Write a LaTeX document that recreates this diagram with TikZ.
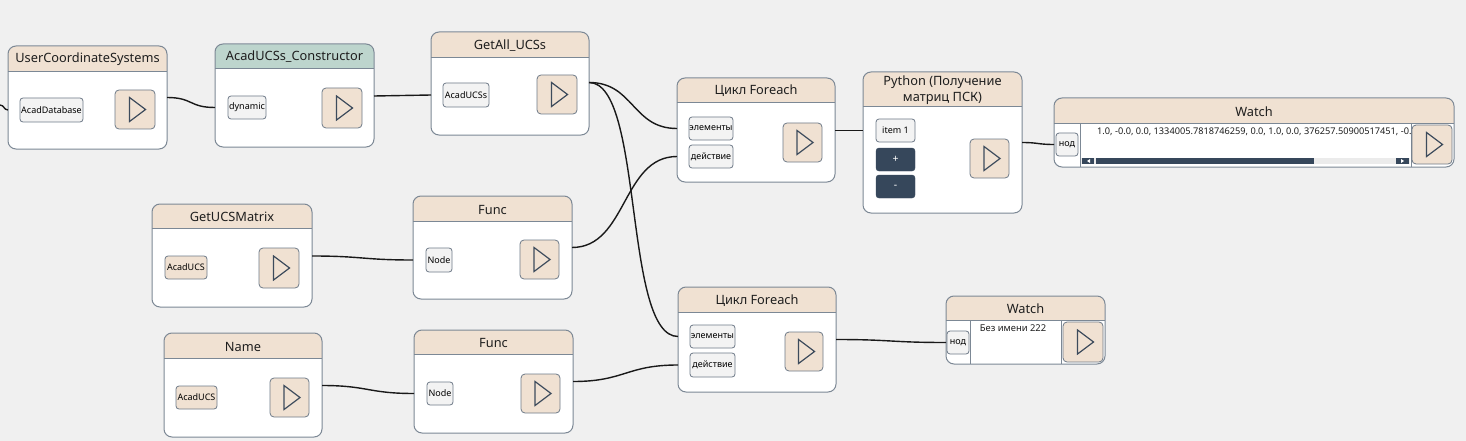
\documentclass[tikz,border=0pt]{standalone}
\usepackage{fontspec}
\setmainfont{Noto Sans}
\usetikzlibrary{calc}
\definecolor{bgc}{HTML}{F0F0F0}
\definecolor{headc}{HTML}{F0E1D2}
\definecolor{greenc}{HTML}{BDD5CD}
\definecolor{linec}{HTML}{7C8895}
\definecolor{portline}{HTML}{6E7A88}
\definecolor{portfill}{HTML}{F3F3F3}
\definecolor{tric}{HTML}{3D4B5C}
\definecolor{darkc}{HTML}{36475B}
\definecolor{trackc}{HTML}{EBEBEB}
\definecolor{textc}{HTML}{1E1E1E}
\tikzset{
  blockbox/.style={fill=white, draw=none, rounded corners=8pt, outer sep=0pt, inner sep=0pt},
  blockline/.style={draw=linec, line width=1pt, rounded corners=8pt},
  sepline/.style={draw=linec, line width=0.9pt},
  titletext/.style={font=\fontsize{12.8}{16}\selectfont, text=textc, inner sep=0pt, align=center},
  portbox/.style={draw=portline, fill=portfill, rounded corners=3pt, line width=0.8pt, inner sep=0pt, outer sep=0pt, font=\fontsize{9}{10}\selectfont, text=black},
  beigeport/.style={portbox, fill=headc},
  darkbtn/.style={draw=darkc, fill=darkc, rounded corners=3pt, inner sep=0pt, outer sep=0pt, font=\fontsize{10.5}{11}\selectfont\bfseries, text=white},
  playbox/.style={draw=portline, fill=headc, rounded corners=4pt, line width=0.8pt, inner sep=0pt, outer sep=0pt},
  tri/.style={draw=tric, line width=1.2pt, line join=miter},
  wire/.style={draw=black!90, line width=1.4pt},
}
\newcommand\mkblock[8]{%
  \node[blockbox, minimum width={(#4-#2)*1pt}, minimum height={(#5-#3)*1pt}, anchor=north west] (#1) at (#2,#3) {};
  \begin{scope}
    \clip[rounded corners=8pt] (#1.north west) rectangle (#1.south east);
    \fill[#7] (#1.north west) rectangle (#4,#6);
  \end{scope}
  \draw[sepline] (#2,#6) -- (#4,#6);
  \draw[blockline] (#1.north west) rectangle (#1.south east);
  \node[titletext] (#1-t) at ({(#2+#4)/2},{(#3+#6)/2+1}) {#8};
}
\newcommand\mkplay[5]{%
  \node[playbox, minimum width={(#4-#2)*1pt}, minimum height={(#5-#3)*1pt}, anchor=north west] (#1) at (#2,#3) {};
  \draw[tri] ($(#1.center)+(-5.5pt,12pt)$) -- ($(#1.center)+(-5.5pt,-12pt)$) -- ($(#1.center)+(10.5pt,0pt)$) -- cycle;
}
\newcommand\mkport[7]{%
  \node[#6, minimum width={(#4-#2)*1pt}, minimum height={(#5-#3)*1pt}, anchor=north west] (#1) at (#2,#3) {#7};
}
\begin{document}
\begin{tikzpicture}[x=1pt,y=-1pt]
\fill[bgc] (0,0) rectangle (1466,441);
\useasboundingbox (0,0) rectangle (1466,441);

% UserCoordinateSystems
\mkblock{ucs}{8}{46}{167}{149}{71}{headc}{UserCoordinateSystems}
\mkport{ucsp}{20}{98}{83}{122}{portbox}{AcadDatabase}
\mkplay{ucsplay}{115}{90}{155}{129}

% AcadUCSs_Constructor
\mkblock{con}{215}{44}{374}{147}{68}{greenc}{AcadUCSs\_Constructor}
\mkport{conp}{228}{96}{266}{119}{portbox}{dynamic}
\mkplay{conplay}{322}{88}{362}{128}

% GetAll_UCSs
\mkblock{gal}{431}{32}{589}{135}{57}{headc}{GetAll\_UCSs}
\mkport{galp}{443}{83}{489}{107}{portbox}{AcadUCSs}
\mkplay{galplay}{537}{75}{577}{114}

% Foreach 1
\mkblock{fe1}{677}{78}{835}{182}{102}{headc}{Цикл Foreach}
\mkport{fe1el}{689}{117}{733}{140}{portbox}{элементы}
\mkport{fe1act}{689}{145}{733}{168}{portbox}{действие}
\mkplay{fe1play}{783}{123}{822}{162}

% Python
\mkblock{py}{863}{72}{1022}{213}{106}{headc}{Python (Получение\\матриц ПСК)}
\mkport{pyitem}{876}{119}{915}{142}{portbox}{item 1}
\mkport{pyplus}{876}{148}{915}{171}{darkbtn}{+}
\mkport{pyminus}{876}{175}{915}{198}{darkbtn}{-}
\mkplay{pyplay}{970}{139}{1009}{178}

% Watch 1
\mkblock{w1}{1054}{98}{1454}{167}{123}{headc}{Watch}
\draw[sepline] (1080,123) -- (1080,167);
\draw[sepline] (1411,123) -- (1411,167);
\mkport{w1p}{1056}{133}{1078}{156}{portbox}{нод}
\begin{scope}
  \clip (1081,124) rectangle (1410,157);
  \node[anchor=west, inner sep=0pt, font=\fontsize{9.2}{10}\selectfont, text=textc] (w1txt) at (1097,132) {1.0, -0.0, 0.0, 1334005.7818746259, 0.0, 1.0, 0.0, 376257.50900517451, -0.0};
\end{scope}
\fill[trackc] (1081,158) rectangle (1410,164);
\fill[darkc] (1082,158) rectangle (1094,164);
\fill[darkc] (1096,158) rectangle (1314,164);
\fill[darkc] (1396,158) rectangle (1409,164);
\fill[white] (1087,161) -- (1090,159) -- (1090,163) -- cycle;
\fill[white] (1404,161) -- (1401,159) -- (1401,163) -- cycle;
\mkplay{w1play}{1412}{125}{1452}{164}

% GetUCSMatrix
\mkblock{gum}{152}{204}{312}{307}{228}{headc}{GetUCSMatrix}
\mkport{gump}{165}{256}{207}{279}{beigeport}{AcadUCS}
\mkplay{gumplay}{259}{248}{299}{288}

% Func 1
\mkblock{fn1}{413}{196}{572}{299}{221}{headc}{Func}
\mkport{fn1p}{426}{248}{452}{272}{portbox}{Node}
\mkplay{fn1play}{520}{240}{559}{279}

% Name
\mkblock{nm}{164}{333}{322}{437}{358}{headc}{Name}
\mkport{nmp}{176}{386}{217}{409}{beigeport}{AcadUCS}
\mkplay{nmplay}{270}{378}{309}{417}

% Func 2
\mkblock{fn2}{414}{330}{573}{433}{354}{headc}{Func}
\mkport{fn2p}{427}{382}{453}{405}{portbox}{Node}
\mkplay{fn2play}{521}{374}{560}{413}

% Foreach 2
\mkblock{fe2}{678}{287}{836}{392}{312}{headc}{Цикл Foreach}
\mkport{fe2el}{690}{325}{735}{348}{portbox}{элементы}
\mkport{fe2act}{690}{353}{735}{377}{portbox}{действие}
\mkplay{fe2play}{785}{332}{823}{371}

% Watch 2
\mkblock{w2}{946}{296}{1105}{364}{320}{headc}{Watch}
\draw[sepline] (970,320) -- (970,364);
\draw[sepline] (1061,320) -- (1061,364);
\mkport{w2p}{947}{331}{969}{354}{portbox}{нод}
\node[inner sep=0pt, font=\fontsize{9.4}{10}\selectfont, text=textc] (w2txt) at (1013,328) {Без имени 222};
\mkplay{w2play}{1063}{322}{1103}{362}

% connectors
\coordinate (in0) at (0,105);
\draw[wire] (in0) .. controls +(4,0) and +(-4,0) .. (ucs.west |- ucsp.center);
\draw[wire] ($(ucs.east |- ucsplay.center)+(0,12pt)$) .. controls +(26,0) and +(-26,0) .. (con.west |- conp.center);
\draw[wire] ($(con.east |- conplay.center)+(0,12pt)$) .. controls +(28,0) and +(-28,0) .. (gal.west |- galp.center);
\draw[wire] ($(gal.east |- galplay.center)+(0,12pt)$) .. controls +(45,0) and +(-45,0) .. (fe1.west |- fe1el.center);
\draw[wire] ($(gal.east |- galplay.center)+(0,12pt)$) .. controls +(55,0) and +(-55,0) .. (fe2.west |- fe2el.center);
\draw[wire] ($(fn1.east |- fn1play.center)+(0,12pt)$) .. controls +(55,0) and +(-55,0) .. (fe1.west |- fe1act.center);
\draw[wire] ($(fe1.east |- fe1play.center)+(0,12pt)$) .. controls +(14,0) and +(-14,0) .. (py.west |- pyitem.center);
\draw[wire] ($(py.east |- pyplay.center)+(0,16pt)$) .. controls +(16,0) and +(-16,0) .. (w1.west |- w1p.center);
\draw[wire] ($(gum.east |- gumplay.center)+(0,12pt)$) .. controls +(50,0) and +(-50,0) .. (fn1.west |- fn1p.center);
\draw[wire] ($(nm.east |- nmplay.center)+(0,12pt)$) .. controls +(46,0) and +(-46,0) .. (fn2.west |- fn2p.center);
\draw[wire] ($(fn2.east |- fn2play.center)+(0,12pt)$) .. controls +(52,0) and +(-52,0) .. (fe2.west |- fe2act.center);
\draw[wire] ($(fe2.east |- fe2play.center)+(0,12pt)$) .. controls +(55,0) and +(-55,0) .. (w2.west |- w2p.center);
\end{tikzpicture}
\end{document}
